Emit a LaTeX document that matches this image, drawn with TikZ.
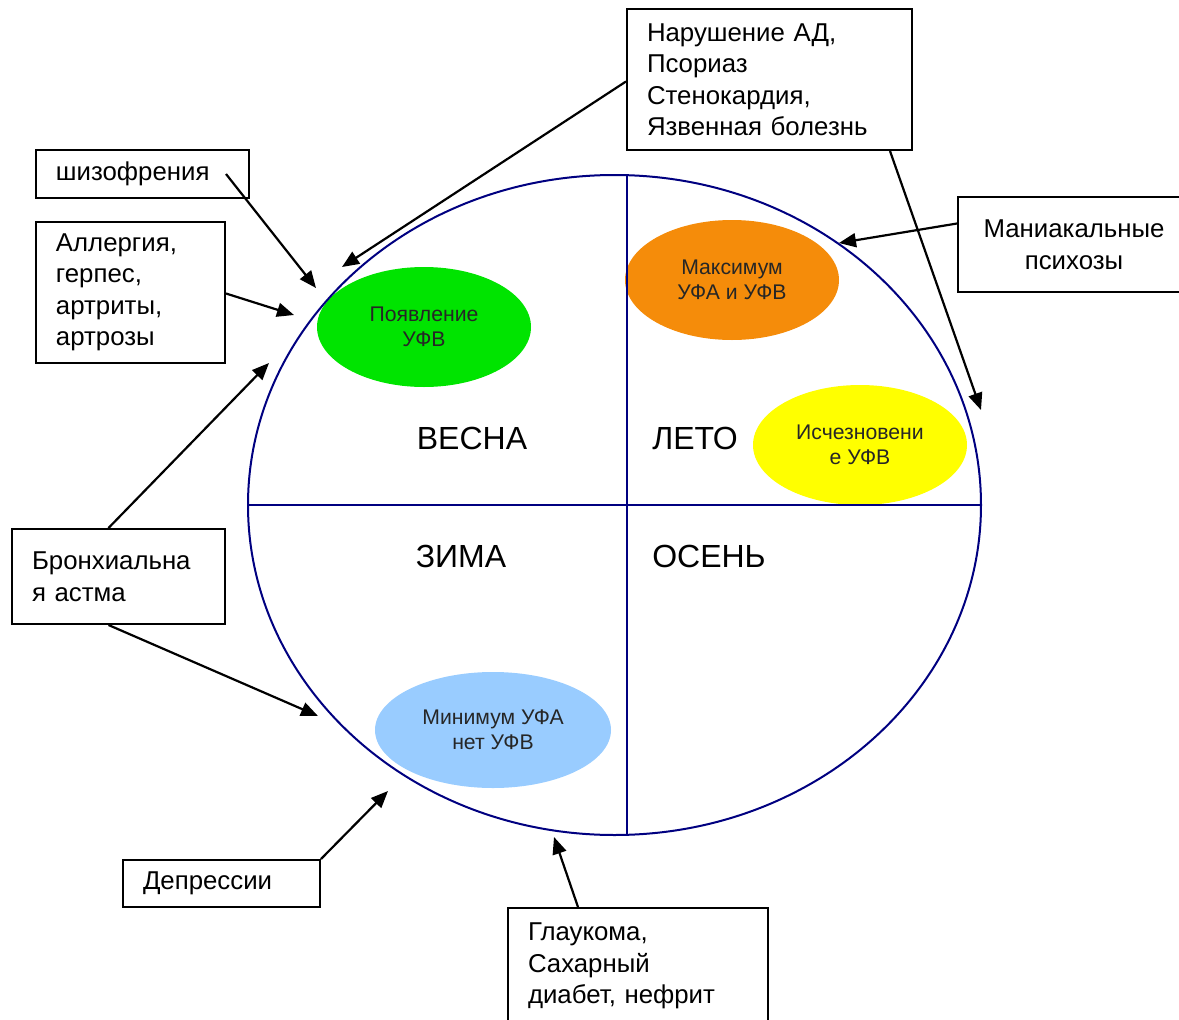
\documentclass[tikz,border=0pt]{standalone}
\usepackage{fontspec}
\setmainfont{Liberation Sans}
\usetikzlibrary{shapes.geometric,arrows.meta,positioning}

\definecolor{rimblue}{RGB}{0,0,128}
\definecolor{springgreen}{RGB}{0,228,0}
\definecolor{summerorange}{RGB}{245,140,10}
\definecolor{autumnyellow}{RGB}{255,255,0}
\definecolor{winterblue}{RGB}{153,204,255}

\begin{document}
\begin{tikzpicture}[x=1pt, y=-1pt]
	\tikzstyle{sick} = [ draw, rectangle, line width=2pt, inner xsep=20pt, inner ysep=0pt, align=left, font={\fontsize{25.8}{31.5}\selectfont} ];
	\tikzstyle{uvspot} = [ ellipse, inner sep=0pt, minimum width=214pt, minimum height=120pt, align=center, text=black!85, font={\fontsize{21.2}{25}\selectfont} ];
	\tikzstyle{season} = [ font={\fontsize{32}{36}\selectfont} ];
	\tikzstyle{point} = [ -{Triangle[length=17pt, width=14pt]}, line width=2.2pt ];
	\tikzstyle{rim} = [ draw=rimblue, line width=2pt ];

	\useasboundingbox (0,0) rectangle (1179,1020);
	\clip (0,0) rectangle (1179,1020);

	% spots inside the year
	\node[uvspot, fill=springgreen] (spring) at (424,327) {Появление\\УФВ};
	\node[uvspot, fill=summerorange] (summer) at (732,280) {Максимум\\УФА и УФВ};
	\node[uvspot, fill=autumnyellow] (fade) at (860,445) {Исчезновени\\е УФВ};
	\node[uvspot, fill=winterblue, minimum width=236pt, minimum height=116pt] (winter) at (493,730) {Минимум УФА\\нет УФВ};

	% the year
	\draw[rim] (614.5,505) ellipse [x radius=366.5, y radius=330];
	\coordinate (west) at (248,505);
	\coordinate (east) at (981,505);
	\coordinate (north) at (627,175);
	\coordinate (south) at (627,835);
	\draw[rim] (west) -- (east);
	\draw[rim] (north) -- (south);

	\node[season] (vesna) at (472,438) {ВЕСНА};
	\node[season] (leto) at (695,438) {ЛЕТО};
	\node[season] (zima) at (461,556) {ЗИМА};
	\node[season] (osen) at (709,556) {ОСЕНЬ};

	% diseases
	\node[sick, anchor=north west, text width=173pt, minimum height=48pt] (schizo) at (35,149) {шизофрения};
	\node[sick, anchor=north west, text width=149pt, minimum height=141pt] (allergy) at (35,221) {Аллергия,\\герпес,\\артриты,\\артрозы};
	\node[sick, anchor=north west, text width=245pt, minimum height=141pt] (pressure) at (626,8) {Нарушение АД,\\Псориаз\\Стенокардия,\\Язвенная болезнь};
	\node[sick, anchor=north west, text width=192pt, minimum height=95pt, align=center] (mania) at (957,196) {Маниакальные\\психозы};
	\node[sick, anchor=north west, text width=173pt, minimum height=95pt] (asthma) at (11,528) {Бронхиальна\\я астма};
	\node[sick, anchor=north west, text width=157pt, minimum height=47pt] (depress) at (122,859) {Депрессии};
	\node[sick, anchor=north west, text width=220pt, minimum height=116pt] (glaucoma) at (507,907) {Глаукома,\\Сахарный\\диабет, нефрит};

	% where the arrows hit the year
	\coordinate (tipSchizo) at (316,288);
	\coordinate (tipAllergy) at (294,315);
	\coordinate (tipPressureL) at (342,267);
	\coordinate (tipPressureR) at (981,410);
	\coordinate (tipMania) at (839,243);
	\coordinate (tipAsthmaUp) at (269,363);
	\coordinate (tipAsthmaLow) at (318,716);
	\coordinate (tipDepress) at (388,791);
	\coordinate (tipGlaucoma) at (554,837);

	\draw[point] ([xshift=-24pt]schizo.east) -- (tipSchizo);
	\draw[point] ([yshift=-1pt]allergy.east) -- (tipAllergy);
	\draw[point] ([yshift=-2pt]pressure.west) -- (tipPressureL);
	\draw[point] ([xshift=-23pt]pressure.south east) -- (tipPressureR);
	\draw[point] ([yshift=21pt]mania.west) -- (tipMania);
	\draw[point] ([xshift=-10pt]asthma.north) -- (tipAsthmaUp);
	\draw[point] ([xshift=-10pt]asthma.south) -- (tipAsthmaLow);
	\draw[point] (depress.north east) -- (tipDepress);
	\draw[point] ([xshift=-60pt]glaucoma.north) -- (tipGlaucoma);

\end{tikzpicture}
\end{document}
